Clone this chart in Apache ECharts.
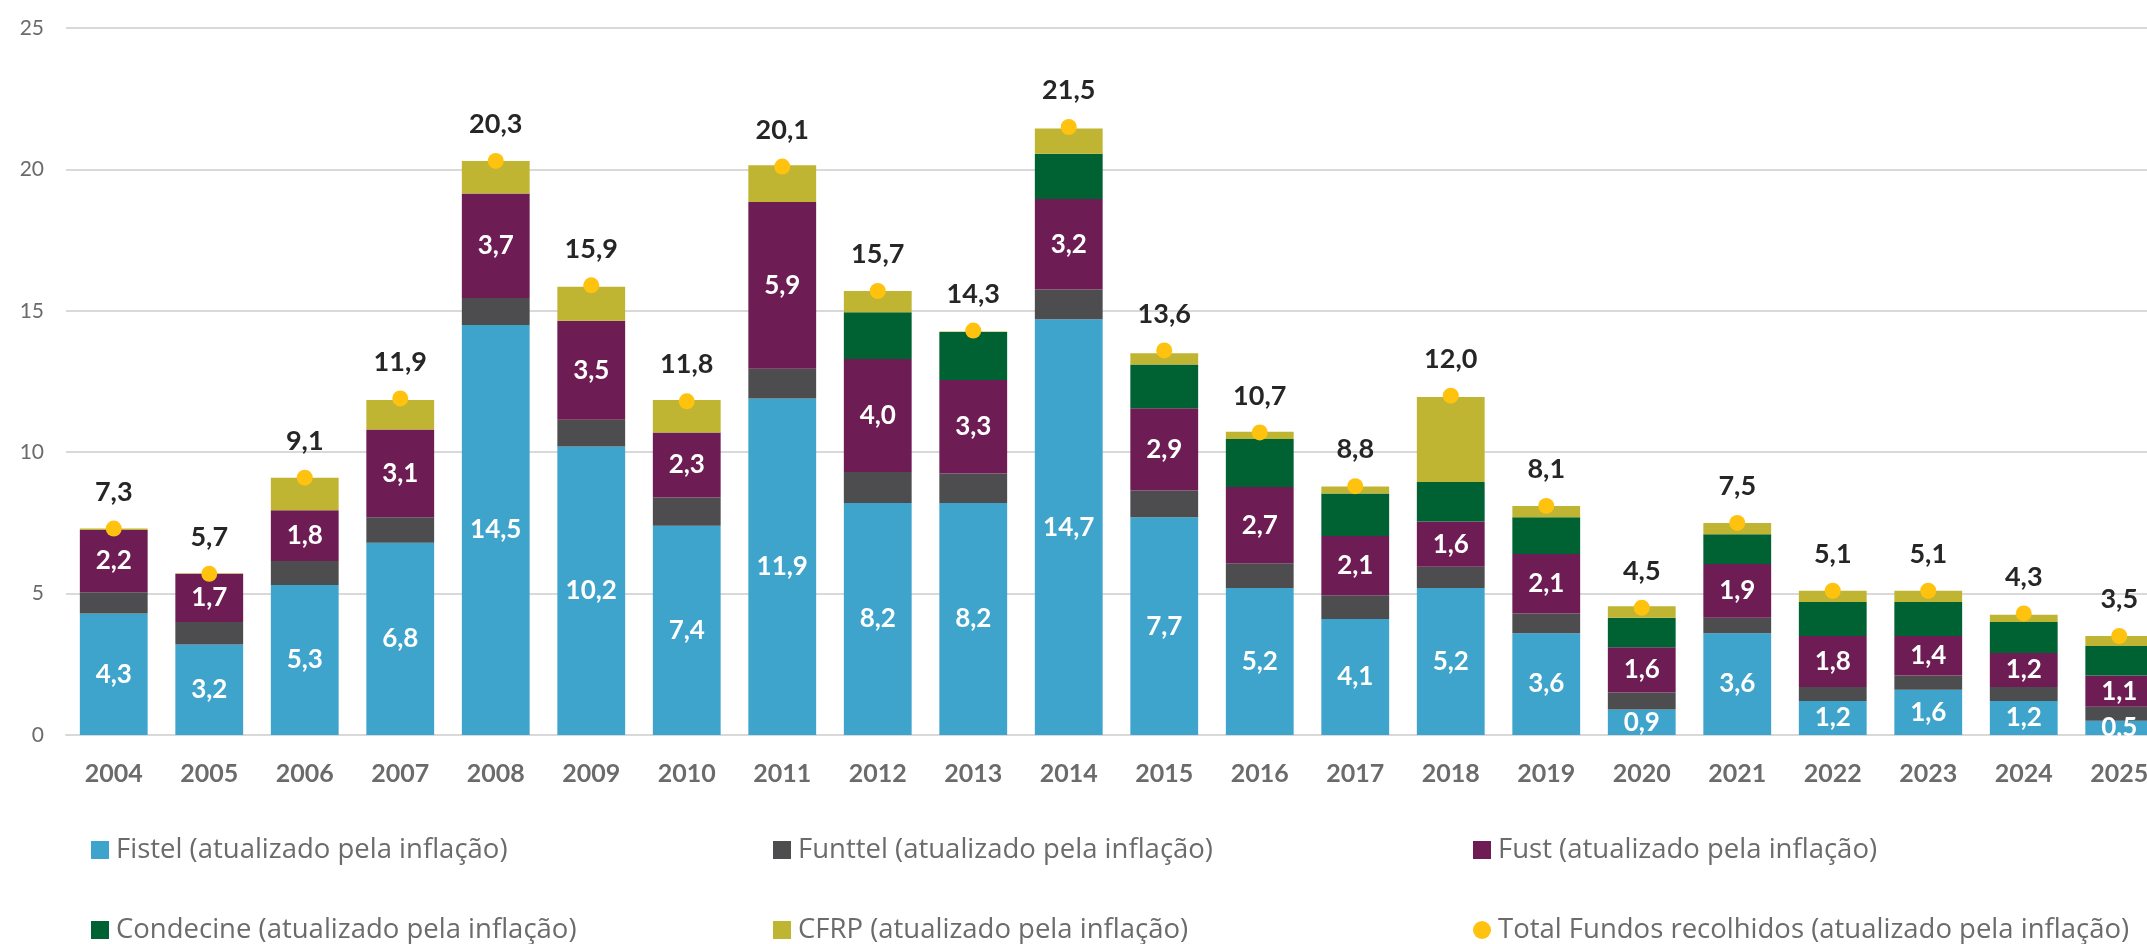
<!DOCTYPE html>
<html>
<head>
<meta charset="utf-8">
<script src="https://cdn.jsdelivr.net/npm/echarts@6/dist/echarts.min.js"></script>
<style>
  html, body { margin: 0; padding: 0; background: #fff; overflow: hidden; }
  #chart { width: 2200px; height: 944px; }
</style>
</head>
<body>
<div id="chart"></div>
<script>
const years = ['2004', '2005', '2006', '2007', '2008', '2009', '2010', '2011', '2012', '2013', '2014',
  '2015', '2016', '2017', '2018', '2019', '2020', '2021', '2022', '2023', '2024', '2025'];
const fistel = [4.3, 3.2, 5.3, 6.8, 14.5, 10.2, 7.4, 11.9, 8.2, 8.2, 14.7, 7.7, 5.2, 4.1, 5.2, 3.6, 0.9, 3.6, 1.2, 1.6, 1.2, 0.5];
const funttel = [0.75, 0.8, 0.85, 0.9, 0.95, 0.95, 1.0, 1.05, 1.1, 1.05, 1.05, 0.95, 0.87, 0.84, 0.75, 0.7, 0.6, 0.55, 0.5, 0.5, 0.5, 0.5];
const fust = [2.2, 1.7, 1.8, 3.1, 3.7, 3.5, 2.3, 5.9, 4.0, 3.3, 3.2, 2.9, 2.7, 2.1, 1.6, 2.1, 1.6, 1.9, 1.8, 1.4, 1.2, 1.1];
const condecine = [0, 0, 0, 0, 0, 0, 0, 0, 1.65, 1.7, 1.6, 1.55, 1.7, 1.5, 1.4, 1.3, 1.05, 1.05, 1.2, 1.2, 1.1, 1.05];
const cfrp = [0.05, 0.02, 1.15, 1.05, 1.15, 1.2, 1.15, 1.3, 0.75, 0.02, 0.9, 0.4, 0.25, 0.25, 3.0, 0.4, 0.4, 0.4, 0.4, 0.4, 0.25, 0.35];
const total = [7.3, 5.7, 9.1, 11.9, 20.3, 15.9, 11.8, 20.1, 15.7, 14.3, 21.5, 13.6, 10.7, 8.8, 12.0, 8.1, 4.5, 7.5, 5.1, 5.1, 4.3, 3.5];

const names = [
  'Fistel (atualizado pela inflação)',
  'Funttel (atualizado pela inflação)',
  'Fust (atualizado pela inflação)',
  'Condecine (atualizado pela inflação)',
  'CFRP (atualizado pela inflação)',
  'Total Fundos recolhidos (atualizado pela inflação)'
];
const colors = ['#3fa4cc', '#4d4d4f', '#6d1c54', '#006233', '#bfb533', '#ffc20e'];

const font = 'Lato, "Open Sans", sans-serif';
const fmt = (v) => v.toFixed(1).replace('.', ',');

const innerLabel = {
  show: true,
  position: 'inside',
  color: '#fff',
  fontFamily: font,
  fontWeight: 'bold',
  fontSize: 26,
  formatter: (p) => fmt(p.value)
};

const bar = (i, data, label) => ({
  name: names[i],
  type: 'bar',
  stack: 'fundos',
  data: data,
  barCategoryGap: '29%',
  itemStyle: { color: colors[i] },
  label: label ? innerLabel : { show: false },
  emphasis: { disabled: true }
});

const legendPos = [
  [91, 836], [773, 836], [1473, 836],
  [91, 916], [773, 916], [1473, 916]
];

const chart = echarts.init(document.getElementById('chart'));
chart.setOption({
  animation: false,
  color: colors,
  grid: { left: 66, top: 28, width: 2101, bottom: 209 },
  legend: names.map((n, i) => ({
    data: [n],
    left: legendPos[i][0],
    top: legendPos[i][1],
    padding: 0,
    itemWidth: 18,
    itemHeight: 18,
    itemGap: 0,
    icon: i === 5 ? 'circle' : 'rect',
    selectedMode: false,
    textStyle: { color: '#6b6b6b', fontFamily: '"Open Sans", sans-serif', fontSize: 27.5, padding: [0, 0, 0, 2] }
  })),
  xAxis: {
    type: 'category',
    data: years,
    axisLine: { lineStyle: { color: '#d9d9d9', width: 2 } },
    axisTick: { show: false },
    axisLabel: { color: '#6b6b6b', fontFamily: font, fontWeight: 'bold', fontSize: 25, margin: 26 }
  },
  yAxis: {
    type: 'value',
    min: 0,
    max: 25,
    interval: 5,
    axisLine: { show: false },
    axisTick: { show: false },
    axisLabel: { color: '#6b6b6b', fontFamily: font, fontSize: 21, margin: 22 },
    splitLine: { lineStyle: { color: '#d9d9d9', width: 2 } }
  },
  series: [
    bar(0, fistel, true),
    bar(1, funttel, false),
    bar(2, fust, true),
    bar(3, condecine, false),
    bar(4, cfrp, false),
    {
      name: names[5],
      type: 'line',
      data: total,
      symbol: 'circle',
      symbolSize: 16,
      itemStyle: { color: colors[5] },
      lineStyle: { width: 0, opacity: 0 },
      z: 5,
      label: {
        show: true,
        position: 'top',
        distance: 15,
        color: '#262626',
        fontFamily: font,
        fontWeight: 'bold',
        fontSize: 27,
        formatter: (p) => fmt(p.value)
      },
      emphasis: { disabled: true }
    }
  ]
});
</script>
</body>
</html>
